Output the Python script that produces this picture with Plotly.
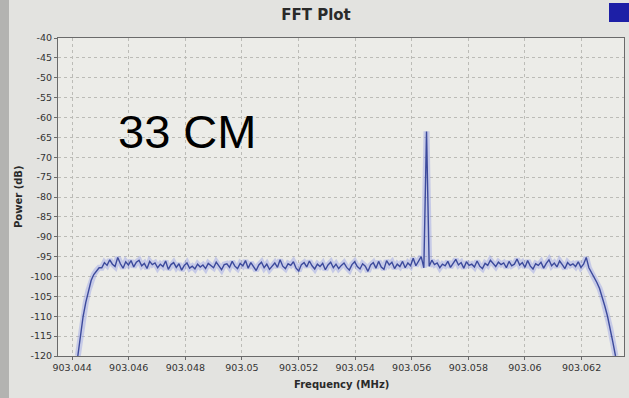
import numpy as np
import plotly.graph_objects as go

# ---- data ----
freq_first_mhz = 903.0442
freq_last_mhz = 903.0632

left_edge = [-120.0, -114.5, -110.0, -106.5, -103.5, -101.0, -99.5, -98.5, -97.8]
noise_a = [-97.8, -96.5, -97.2, -95.8, -96.9, -97.5, -95.2, -96.8, -97.9, -96.3,
           -97.1, -96.0, -97.6, -96.4, -95.9, -97.3, -96.7, -98.0, -96.2, -97.0,
           -96.6, -97.8]
noise_b = [-96.9, -97.5, -96.1, -98.2, -97.0, -96.5, -97.7, -96.8, -98.4, -97.2,
           -96.6, -97.9, -97.4, -98.1, -96.9, -97.6, -97.1, -98.0, -96.7, -97.3,
           -97.8, -96.4, -97.5, -98.3, -97.0, -96.8, -97.7, -96.2, -97.4, -98.0]
noise_c = [-96.7, -97.3, -96.0, -97.9, -96.5, -97.6, -98.5, -97.1, -96.4, -97.8,
           -96.9, -98.2, -97.3, -96.6, -97.7, -95.8, -97.4, -98.0, -96.8, -97.2,
           -96.3, -97.9, -98.6, -97.0, -96.5, -97.6, -96.1, -97.3, -98.1, -96.9]
noise_d = [-97.5, -96.7, -98.3, -97.1, -96.4, -97.8, -96.9, -98.0, -97.2, -96.6,
           -97.7, -98.4, -97.0, -96.3, -97.5, -98.1, -96.8, -97.4, -98.7, -97.1,
           -96.5, -97.9, -96.2, -97.6, -98.2, -96.0, -97.1, -96.4, -98.0, -96.9,
           -97.5, -96.2, -97.8, -96.6, -97.3, -95.4, -97.3, -96.1, -95.0, -97.8]
spike = [-63.5]
noise_e = [-97.4, -95.9, -97.0, -96.6, -97.8, -96.9, -97.3, -96.2, -97.7, -96.8,
           -95.7, -97.1, -96.5, -97.9, -96.3, -97.2, -96.9, -97.6, -96.1, -97.4,
           -98.0, -96.7, -97.2, -95.9, -96.8, -97.5, -96.4, -97.0]
noise_f = [-96.6, -97.8, -96.2, -97.3, -96.9, -95.6, -97.1, -96.5, -97.7, -96.0,
           -97.4, -98.1, -96.8, -97.2, -96.4, -97.9, -96.7, -95.8, -97.3, -96.6,
           -97.6, -96.1, -97.0, -98.0, -96.5, -97.2, -96.8, -97.5, -96.3, -97.7,
           -96.9, -95.2]
right_edge = [-97.8, -99.0, -100.0, -101.5, -103.0, -105.0, -107.5, -110.0,
              -113.0, -116.5, -120.0]

power_db = (left_edge + noise_a + noise_b + noise_c + noise_d + spike
            + noise_e + noise_f + right_edge)
freq_mhz = np.linspace(freq_first_mhz, freq_last_mhz, len(power_db))

x_tick_vals = [903.044, 903.046, 903.048, 903.050, 903.052, 903.054,
               903.056, 903.058, 903.060, 903.062]
x_tick_text = ["903.044", "903.046", "903.048", "903.05", "903.052", "903.054",
               "903.056", "903.058", "903.06", "903.062"]
y_tick_vals = list(range(-40, -121, -5))
y_tick_text = [str(v) for v in y_tick_vals]

# ---- figure ----
fig = go.Figure()
fig.add_trace(go.Scatter(x=freq_mhz, y=power_db, mode="lines",
                         line=dict(color="rgba(130,140,230,0.35)", width=6),
                         hoverinfo="skip", showlegend=False))
fig.add_trace(go.Scatter(x=freq_mhz, y=power_db, mode="lines",
                         line=dict(color="#3c4a9c", width=1.4),
                         showlegend=False))

tick_font = dict(family="DejaVu Sans", size=9.5, color="#333333")
grid_col = "#bcbcb7"

fig.update_layout(
    width=629, height=398,
    margin=dict(l=58, r=5, t=38, b=42),
    paper_bgcolor="#e3e3e0",
    plot_bgcolor="#ecece8",
    title=dict(text="<b>FFT Plot</b>", x=316 / 629, xanchor="center",
               y=1 - 15 / 398, yanchor="middle",
               font=dict(family="DejaVu Sans", size=15, color="#2a2a2a")),
    xaxis=dict(range=[903.0435, 903.0635], tickvals=x_tick_vals,
               ticktext=x_tick_text, tickfont=tick_font,
               showgrid=True, gridcolor=grid_col, griddash="dot", gridwidth=1,
               showline=True, linecolor="#6a6a6a", linewidth=1, mirror=True,
               zeroline=False, ticks="outside", ticklen=3, tickcolor="#6a6a6a"),
    yaxis=dict(range=[-120, -40], tickvals=y_tick_vals, ticktext=y_tick_text,
               tickfont=tick_font,
               showgrid=True, gridcolor=grid_col, griddash="dot", gridwidth=1,
               showline=True, linecolor="#6a6a6a", linewidth=1, mirror=True,
               zeroline=False, ticks="outside", ticklen=3, tickcolor="#6a6a6a"),
    annotations=[
        dict(text="33 CM", xref="paper", yref="paper",
             x=(187 - 58) / 566, y=(356 - 131.5) / 318,
             xanchor="center", yanchor="middle", showarrow=False,
             font=dict(family="Liberation Sans", size=47, color="#000000")),
        dict(text="<b>Frequency (MHz)</b>", xref="paper", yref="paper",
             x=0.5, y=(356 - 384) / 318, xanchor="center", yanchor="middle",
             showarrow=False,
             font=dict(family="DejaVu Sans", size=10, color="#2a2a2a")),
        dict(text="<b>Power (dB)</b>", xref="paper", yref="paper",
             x=(18 - 58) / 566, y=0.5, xanchor="center", yanchor="middle",
             textangle=-90, showarrow=False,
             font=dict(family="DejaVu Sans", size=10, color="#2a2a2a")),
    ],
    shapes=[
        dict(type="rect", xref="paper", yref="paper",
             x0=(609 - 58) / 566, x1=(632 - 58) / 566,
             y0=(356 - 22) / 318, y1=(356 - 3) / 318,
             fillcolor="#1d1fa6", line=dict(width=0)),
        dict(type="rect", xref="paper", yref="paper",
             x0=(-2 - 58) / 566, x1=(9 - 58) / 566,
             y0=(356 - 400) / 318, y1=(356 + 2) / 318,
             fillcolor="#b3b3b1", line=dict(width=0)),
    ],
)

fig.write_html("out.html",
               config={"displayModeBar": False},
               post_script="document.body.style.margin='0';"
                           "document.body.style.padding='0';")
